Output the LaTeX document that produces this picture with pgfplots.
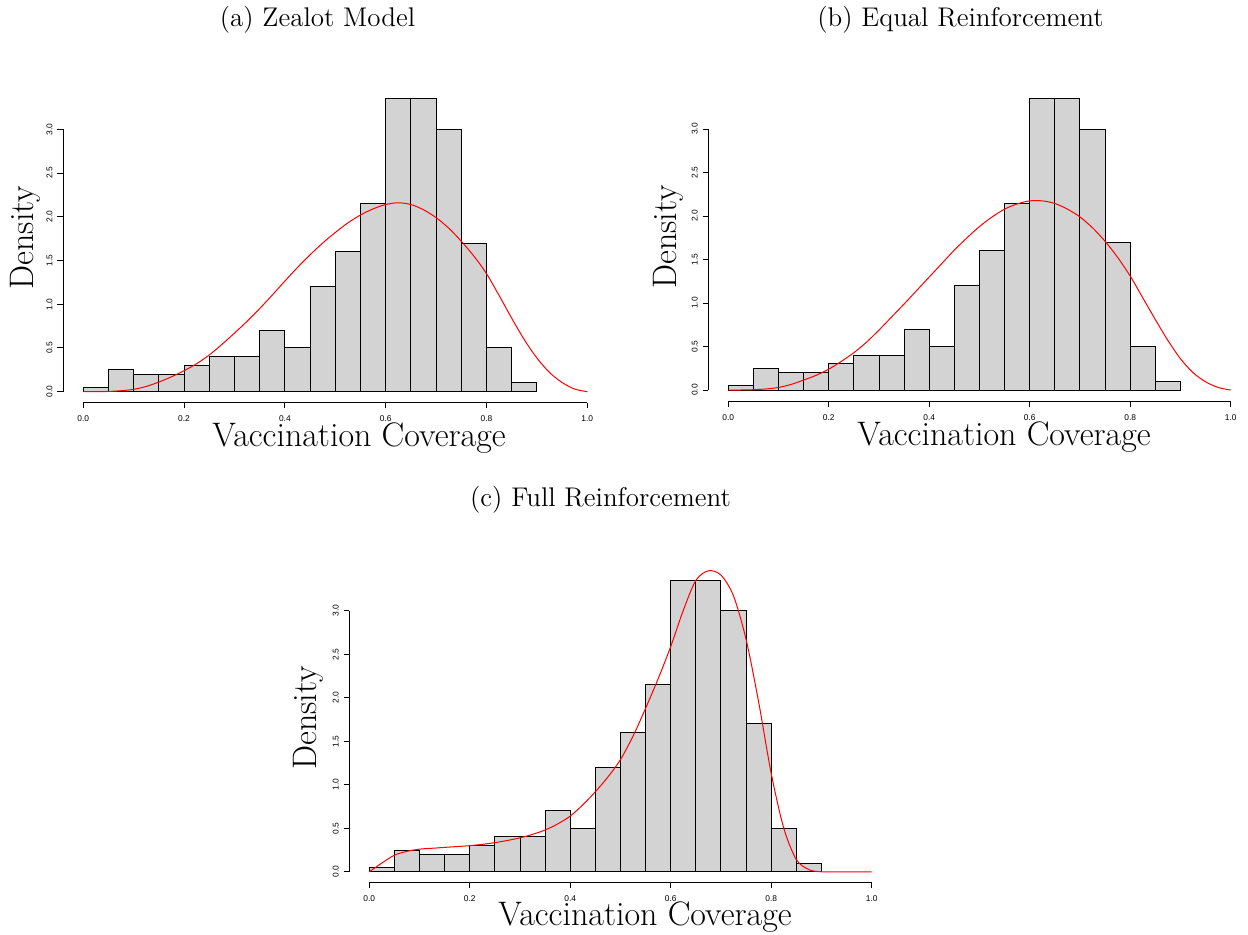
\documentclass[border=0pt]{standalone}
\usepackage{fontspec}
\usepackage{pgfplots}
\pgfplotsset{compat=1.18}
\newfontfamily\tickfont{Liberation Sans}
\definecolor{barfill}{RGB}{211,211,211}

\pgfplotstableread{
x y
0.00 0.05
0.05 0.25
0.10 0.20
0.15 0.20
0.20 0.30
0.25 0.40
0.30 0.40
0.35 0.70
0.40 0.50
0.45 1.20
0.50 1.60
0.55 2.15
0.60 3.35
0.65 3.35
0.70 3.00
0.75 1.70
0.80 0.50
0.85 0.10
0.90 0.10
}\histdata

\pgfplotstableread{
x y
0.000 0
0.025 0.0005
0.050 0.003
0.075 0.011
0.100 0.027
0.125 0.060
0.150 0.110
0.175 0.170
0.200 0.240
0.225 0.320
0.250 0.420
0.275 0.540
0.300 0.670
0.325 0.805
0.350 0.950
0.375 1.105
0.400 1.265
0.425 1.420
0.450 1.565
0.475 1.700
0.500 1.820
0.525 1.930
0.550 2.020
0.575 2.090
0.600 2.140
0.625 2.160
0.650 2.140
0.675 2.080
0.700 1.990
0.725 1.870
0.750 1.720
0.775 1.550
0.800 1.350
0.825 1.100
0.850 0.840
0.875 0.595
0.900 0.385
0.925 0.220
0.950 0.105
0.975 0.030
1.000 0
}\curvea

\pgfplotstableread{
x y
0.000 0
0.025 0.0007
0.050 0.004
0.075 0.013
0.100 0.030
0.125 0.065
0.150 0.115
0.175 0.170
0.200 0.240
0.225 0.330
0.250 0.430
0.275 0.550
0.300 0.690
0.325 0.840
0.350 0.990
0.375 1.145
0.400 1.300
0.425 1.455
0.450 1.610
0.475 1.750
0.500 1.880
0.525 1.990
0.550 2.080
0.575 2.140
0.600 2.175
0.625 2.175
0.650 2.145
0.675 2.080
0.700 1.990
0.725 1.865
0.750 1.710
0.775 1.525
0.800 1.310
0.825 1.060
0.850 0.810
0.875 0.570
0.900 0.360
0.925 0.200
0.950 0.095
0.975 0.030
1.000 0
}\curveb

\pgfplotstableread{
x y
0.000 0
0.025 0.100
0.050 0.190
0.075 0.235
0.100 0.260
0.125 0.270
0.150 0.280
0.175 0.290
0.200 0.300
0.225 0.315
0.250 0.335
0.275 0.360
0.300 0.390
0.325 0.430
0.350 0.480
0.375 0.550
0.400 0.640
0.425 0.770
0.450 0.920
0.475 1.090
0.500 1.290
0.525 1.560
0.550 1.880
0.575 2.220
0.600 2.590
0.625 3.005
0.650 3.350
0.675 3.460
0.700 3.410
0.725 3.170
0.750 2.670
0.775 1.950
0.800 1.130
0.825 0.500
0.850 0.140
0.875 0.025
0.900 0
0.950 0
1.000 0
}\curvec

\pgfplotsset{rhist/.style={
  scale only axis,
  xmin=-0.04, xmax=1.0,
  axis lines*=left,
  axis line style={-, draw=none},
  tick align=outside,
  major tick length=2.85pt,
  tick style={black, line width=0.5pt},
  xtick={0,0.2,0.4,0.6,0.8,1.0},
  ytick={0,0.5,1,1.5,2,2.5,3},
  xticklabel style={font=\tickfont\fontsize{4.2}{5}\selectfont, anchor=center, yshift=-5.3pt},
  yticklabel style={font=\tickfont\fontsize{4.2}{5}\selectfont, xshift=-3.9pt, rotate=90, anchor=center},
  /pgf/number format/fixed,
  /pgf/number format/fixed zerofill,
  /pgf/number format/precision=1,
  /pgf/number format/assume math mode=true,
  clip=false,
}}

\begin{document}
\begin{tikzpicture}
\useasboundingbox (0,0) rectangle (624pt,-467pt);

% (a)
\begin{axis}[rhist, at={(31.55pt,-201.35pt)}, anchor=south west,
  width=262.1pt, height=154.2pt, ymin=-0.126, ymax=3.4]
\addplot[ybar interval, draw=black, line width=0.5pt, fill=barfill] table[x=x,y=y] {\histdata};
\addplot[red, line width=0.5pt, smooth] table[x=x,y=y] {\curvea};
\draw[line width=0.5pt] (axis cs:0,-0.126) -- (axis cs:1,-0.126);
\draw[line width=0.5pt] (axis cs:-0.04,0) -- (axis cs:-0.04,3);
\end{axis}

% (b)
\begin{axis}[rhist, at={(354.1pt,-200.85pt)}, anchor=south west,
  width=261.25pt, height=153.7pt, ymin=-0.134, ymax=3.4]
\addplot[ybar interval, draw=black, line width=0.5pt, fill=barfill] table[x=x,y=y] {\histdata};
\addplot[red, line width=0.5pt, smooth] table[x=x,y=y] {\curveb};
\draw[line width=0.5pt] (axis cs:0,-0.134) -- (axis cs:1,-0.134);
\draw[line width=0.5pt] (axis cs:-0.04,0) -- (axis cs:-0.04,3);
\end{axis}

% (c)
\begin{axis}[rhist, at={(174.6pt,-441.35pt)}, anchor=south west,
  width=261.25pt, height=157.7pt, ymin=-0.126, ymax=3.5]
\addplot[ybar interval, draw=black, line width=0.5pt, fill=barfill] table[x=x,y=y] {\histdata};
\addplot[red, line width=0.5pt, smooth] table[x=x,y=y] {\curvec};
\draw[line width=0.5pt] (axis cs:0,-0.126) -- (axis cs:1,-0.126);
\draw[line width=0.5pt] (axis cs:-0.04,0) -- (axis cs:-0.04,3);
\end{axis}

% titles
\node[anchor=base, font=\fontsize{13.5}{15}\selectfont] at (158.75pt,-13pt) {(a) Zealot Model};
\node[anchor=base, font=\fontsize{13.5}{15}\selectfont] at (480.25pt,-13pt) {(b) Equal Reinforcement};
\node[anchor=base, font=\fontsize{13.5}{15}\selectfont] at (300.25pt,-253pt) {(c) Full Reinforcement};

% y labels
\node[anchor=base, rotate=90, font=\fontsize{17}{20}\selectfont] at (16.6pt,-118.75pt) {Density};
\node[anchor=base, rotate=90, font=\fontsize{17}{20}\selectfont] at (338pt,-118.5pt) {Density};
\node[anchor=base, rotate=90, font=\fontsize{17}{20}\selectfont] at (158.3pt,-359pt) {Density};

% x labels
\node[anchor=base, font=\fontsize{17}{20}\selectfont] at (179.5pt,-223.35pt) {Vaccination Coverage};
\node[anchor=base, font=\fontsize{17}{20}\selectfont] at (502pt,-222.5pt) {Vaccination Coverage};
\node[anchor=base, font=\fontsize{17}{20}\selectfont] at (322.5pt,-462.5pt) {Vaccination Coverage};
\end{tikzpicture}
\end{document}
